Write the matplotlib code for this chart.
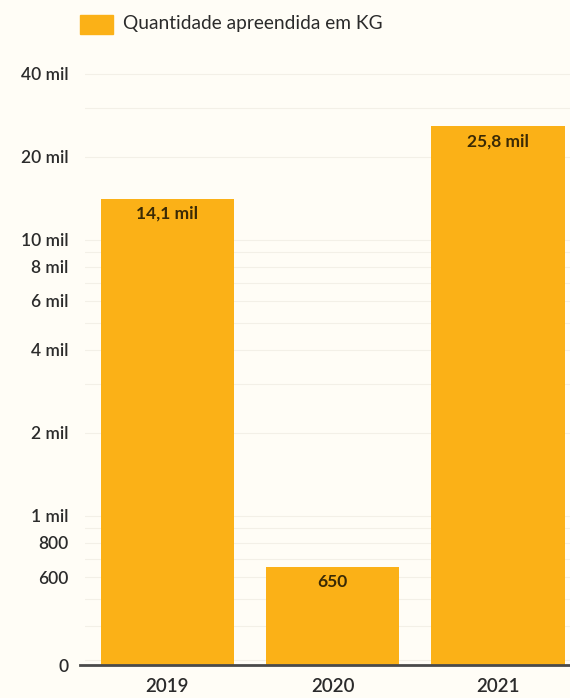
import numpy as np, matplotlib
matplotlib.use("Agg")
import matplotlib.pyplot as plt
from matplotlib.ticker import FixedLocator, NullFormatter

years = ["2019", "2020", "2021"]
kg = [14100, 650, 25800]
bar_labels = ["14,1 mil", "650", "25,8 mil"]
ytick_vals = [288, 600, 800, 1000, 2000, 4000, 6000, 8000, 10000, 20000, 40000]
ytick_text = ["0", "600", "800", "1 mil", "2 mil", "4 mil", "6 mil", "8 mil", "10 mil", "20 mil", "40 mil"]
legend_text = "Quantidade apreendida em KG"

bg = "#fffdf6"
bar_color = "#fbb117"
text_color = "#2b2b2b"

plt.rcParams["font.family"] = ["Lato", "DejaVu Sans"]

fig = plt.figure(figsize=(5.70, 6.98), dpi=100, facecolor=bg)
ax = fig.add_axes([85 / 570, 33 / 698, 485 / 570, 605 / 698])
ax.set_facecolor(bg)
ax.set_yscale("log")
ax.set_ylim(288, 44800)
ax.set_xlim(-0.497, 2.436)

# faint gridlines
grid_vals = []
for dec in [100, 1000, 10000]:
    for m in range(1, 10):
        v = m * dec
        if 288 < v < 44800:
            grid_vals.append(v)
for v in grid_vals:
    ax.axhline(v, color="#f3f0e7", lw=0.8, zorder=0)

x = np.arange(len(years))
bars = ax.bar(x, kg, width=0.806, color=bar_color, zorder=2)
for b, lab in zip(bars, bar_labels):
    ax.annotate(lab, (b.get_x() + b.get_width() / 2, b.get_height()),
                xytext=(0, -5), textcoords="offset points", ha="center", va="top",
                fontsize=12.5, fontweight="bold", color="#3a2a05", zorder=3)

ax.yaxis.set_major_locator(FixedLocator(ytick_vals))
ax.set_yticklabels(ytick_text)
ax.yaxis.set_minor_formatter(NullFormatter())
ax.tick_params(axis="y", which="both", length=0, labelsize=12.5, labelcolor=text_color, pad=12)
ax.set_xticks(x)
ax.set_xticklabels(years)
ax.tick_params(axis="x", length=0, labelsize=13.5, labelcolor=text_color, pad=9)
for t in ax.get_yticklabels() + ax.get_xticklabels():
    t.set_fontweight("semibold")

for s in ["top", "right", "left"]:
    ax.spines[s].set_visible(False)
ax.spines["bottom"].set_color("#4a4a4a")
ax.spines["bottom"].set_linewidth(2)
ax.spines["bottom"].set_bounds(-0.53, 2.436)
ax.spines["bottom"].set_zorder(4)

# legend
fig.patches.append(plt.Rectangle((80 / 570, 1 - 34 / 698), 33 / 570, 19 / 698,
                                 transform=fig.transFigure, color=bar_color))
fig.text(123 / 570, 1 - 24 / 698, legend_text, fontsize=13.8, color=text_color,
         va="center", ha="left")

fig.savefig("out.png", dpi=100, facecolor=bg)
